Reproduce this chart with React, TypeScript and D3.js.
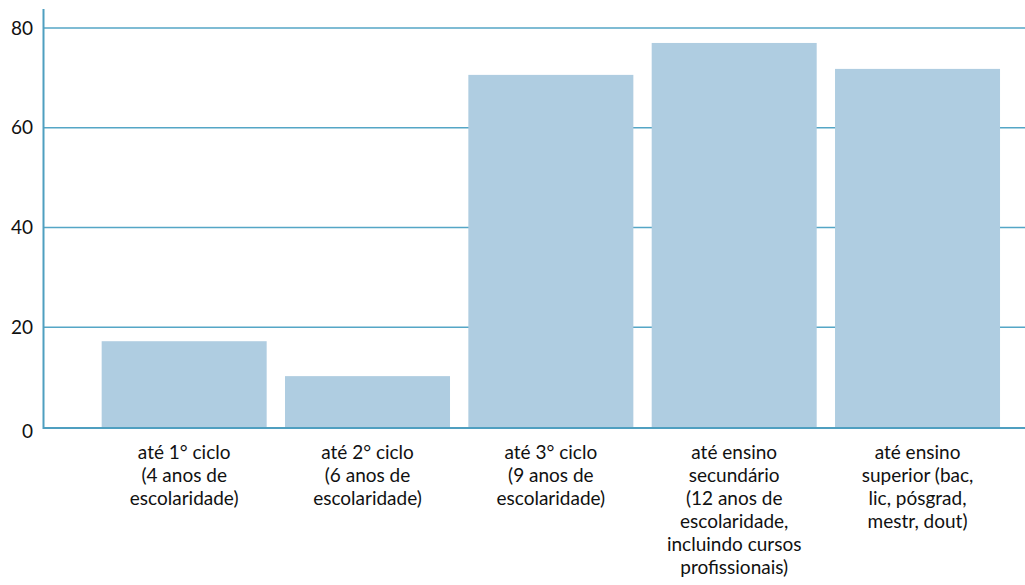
import React from "react";
import * as d3 from "d3";

const categories: string[][] = [
  ["até 1° ciclo", "(4 anos de", "escolaridade)"],
  ["até 2° ciclo", "(6 anos de", "escolaridade)"],
  ["até 3° ciclo", "(9 anos de", "escolaridade)"],
  ["até ensino", "secundário", "(12 anos de", "escolaridade,", "incluindo cursos", "profissionais)"],
  ["até ensino", "superior (bac,", "lic, pósgrad,", "mestr, dout)"],
];
const values: number[] = [17.2, 10.2, 70.6, 77.0, 71.8];
const yTicks: number[] = [0, 20, 40, 60, 80];

const W = 1025;
const H = 585;
const FONT = "Lato, 'Open Sans', sans-serif";

export default function App() {
  const keys = categories.map((_, i) => String(i));
  const x = d3.scaleBand<string>().domain(keys).range([92.5, 1009.2]).paddingInner(0.1).paddingOuter(0.05);
  const y = d3.scaleLinear().domain([0, 80]).range([427, 28]);
  const axisX = 43.5;
  const gridColor = "#55a6c6";

  return (
    <svg width={W} height={H} style={{ position: "absolute", left: 0, top: 0, background: "#fff" }}>
      {yTicks.filter((t) => t > 0).map((t) => (
        <line key={t} x1={axisX} x2={W} y1={y(t)} y2={y(t)} stroke={gridColor} strokeWidth={1.4} />
      ))}
      {values.map((v, i) => (
        <rect
          key={i}
          x={x(keys[i])}
          width={x.bandwidth()}
          y={y(v)}
          height={y(0) - y(v) + 1}
          fill="#afcde1"
        />
      ))}
      <line x1={axisX} x2={W} y1={y(0) + 1} y2={y(0) + 1} stroke="#4f9fc0" strokeWidth={2} />
      <line x1={axisX} x2={axisX} y1={9} y2={y(0) + 2} stroke="#4f9fc0" strokeWidth={2} />
      {yTicks.map((t) => (
        <text
          key={t}
          x={33}
          y={t === 0 ? y(0) + 4 : y(t)}
          dy="0.35em"
          textAnchor="end"
          fontFamily={FONT}
          fontSize={19}
          fill="#111"
        >
          {t}
        </text>
      ))}
      {categories.map((lines, i) => (
        <text
          key={i}
          x={(x(keys[i]) as number) + x.bandwidth() / 2}
          y={452}
          textAnchor="middle"
          fontFamily={FONT}
          fontSize={19}
          fill="#111"
        >
          {lines.map((l, j) => (
            <tspan key={j} x={(x(keys[i]) as number) + x.bandwidth() / 2} y={452 + j * 23} dy="0.35em">
              {l}
            </tspan>
          ))}
        </text>
      ))}
    </svg>
  );
}
